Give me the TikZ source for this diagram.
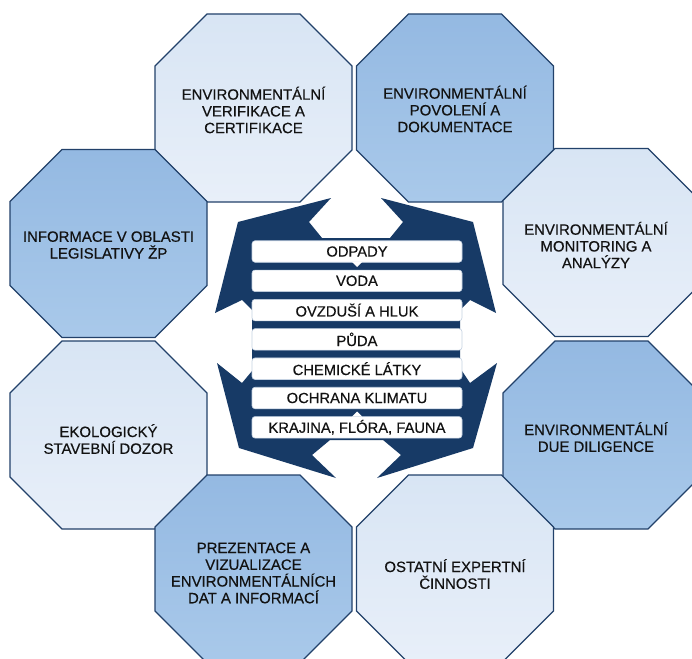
\documentclass[tikz,border=0pt]{standalone}
\usepackage{fontspec}
\setmainfont{Liberation Sans}
\newfontfamily\diagfont[FakeBold=0.35]{Liberation Sans}
\definecolor{navy}{HTML}{173A66}
\definecolor{octline}{HTML}{22416A}
\definecolor{lighttop}{HTML}{D8E5F4}
\definecolor{lightbot}{HTML}{E8EFF9}
\definecolor{darktop}{HTML}{94B9E2}
\definecolor{darkbot}{HTML}{A9C9EA}
\definecolor{txt}{HTML}{121212}
\definecolor{boxline}{HTML}{C5D2E2}
\tikzset{
  octpic/.pic={\path[pic actions] (-46.5,-94) -- (46.5,-94) -- (98.5,-42) -- (98.5,42) -- (46.5,94) -- (-46.5,94) -- (-98.5,42) -- (-98.5,-42) -- cycle;},
  lightoct/.style={draw=octline, line width=1.3bp, top color=lighttop, bottom color=lightbot},
  darkoct/.style={draw=octline, line width=1.3bp, top color=darktop, bottom color=darkbot},
  octtext/.style={align=center, text=txt, inner sep=0pt, font=\diagfont\fontsize{15}{16.8}\selectfont},
  catbox/.style={draw=boxline, line width=0.6bp, fill=white, rounded corners=3bp, minimum width=210bp, minimum height=21.5bp, inner sep=0pt, text=txt, font=\diagfont\fontsize{14.8}{16}\selectfont}
}
\begin{document}
\begin{tikzpicture}[x=1bp, y=-1bp]
\useasboundingbox (0,0) rectangle (692,659);
\clip (0,0) rectangle (692,659);
\fill[white] (0,0) rectangle (692,659);
% octagons
\pic[lightoct] at (253.5,108) {octpic};
\pic[darkoct]  at (455,108) {octpic};
\pic[darkoct]  at (108.5,243.5) {octpic};
\pic[lightoct] at (601.5,242.5) {octpic};
\pic[lightoct] at (108.5,435) {octpic};
\pic[darkoct]  at (601.5,435) {octpic};
\pic[darkoct]  at (253.5,569) {octpic};
\pic[lightoct] at (455,569) {octpic};
% texts
\node[octtext] (o1) at (253.5,110) {ENVIRONMENTÁLNÍ\\VERIFIKACE A\\CERTIFIKACE};
\node[octtext] (o2) at (455,109) {ENVIRONMENTÁLNÍ\\POVOLENÍ A\\DOKUMENTACE};
\node[octtext] (o3) at (596,245) {ENVIRONMENTÁLNÍ\\MONITORING A\\ANALÝZY};
\node[octtext] (o4) at (596,437) {ENVIRONMENTÁLNÍ\\DUE DILIGENCE};
\node[octtext] (o5) at (455,574) {OSTATNÍ EXPERTNÍ\\ČINNOSTI};
\node[octtext] (o6) at (253.5,573) {PREZENTACE A\\VIZUALIZACE\\ENVIRONMENTÁLNÍCH\\DAT A INFORMACÍ};
\node[octtext] (o7) at (108.5,439) {EKOLOGICKÝ\\STAVEBNÍ DOZOR};
\node[octtext] (o8) at (108.5,245) {INFORMACE V OBLASTI\\LEGISLATIVY ŽP};
% central navy arrows
\begin{scope}[shift={(356,338)}]
\fill[navy] (-118,-116) -- (-25,-140) -- (-47,-116) -- (-34,-100) -- (34,-100) -- (47,-116) -- (25,-140) -- (117,-116)
  -- (140,-25) -- (114,-38) -- (104,-28) -- (104,30) -- (114,45) -- (141,25)
  -- (117,110) -- (21,140) -- (45,117) -- (27,102) -- (-26,102) -- (-44,117) -- (-20,140) -- (-117,110)
  -- (-139,25) -- (-114,45) -- (-104,33) -- (-104,-28) -- (-114,-38) -- (-141,-25) -- cycle;
\end{scope}
% category boxes
\node[catbox] (b1) at (357,251.5) {ODPADY};
\node[catbox] (b2) at (357,280.8) {VODA};
\node[catbox] (b3) at (357,310.1) {OVZDUŠÍ A HLUK};
\node[catbox] (b4) at (357,339.4) {PŮDA};
\node[catbox] (b5) at (357,368.7) {CHEMICKÉ LÁTKY};
\node[catbox] (b6) at (357,398) {OCHRANA KLIMATU};
\node[catbox] (b7) at (357,427.3) {KRAJINA, FLÓRA, FAUNA};
% small white pointers
\fill[white] (352,262) -- (362,262) -- (357,267) -- cycle;
\fill[white] (352,416.5) -- (362,416.5) -- (357,411.5) -- cycle;
\end{tikzpicture}
\end{document}
